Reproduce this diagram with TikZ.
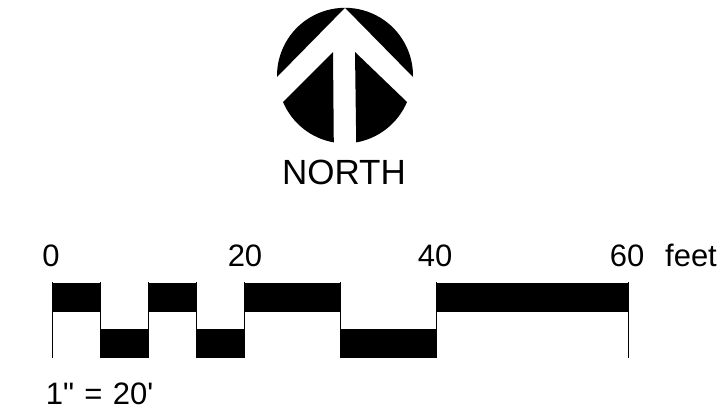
\documentclass[tikz,border=0pt]{standalone}
\usepackage{fontspec}
\newfontfamily\labelfont{Liberation Sans}
\tikzset{
  scalelabel/.style={anchor=base,inner sep=0pt,font=\labelfont\fontsize{31}{36}\selectfont},
  titlelabel/.style={anchor=base,inner sep=0pt,font=\labelfont\fontsize{35}{42}\selectfont},
  tickline/.style={line width=0.9pt}
}
\newcommand{\blocks}[3]{
  \foreach \a/\b in {#1} {
    \fill ({52+9.6*\a},#2) rectangle ({52+9.6*\b},#3);
  }
}
\begin{document}
\begin{tikzpicture}[x=1pt,y=-1pt]
      \useasboundingbox (0,0) rectangle (725,415);
      % north arrow
      \fill (277,77) arc[start angle=179,end angle=270,radius=68] -- cycle;
      \fill (413,77) arc[start angle=1,end angle=-90,radius=68] -- cycle;
      \fill (333,52) -- (283,102) arc[start angle=157,end angle=100,radius=68] -- cycle;
      \fill (355,52) -- (407,102) arc[start angle=23,end angle=80,radius=68] -- cycle;
      \node[titlelabel] (north) at (344,184) {NORTH};
      % scale bar
      \foreach \f in {0,5,10,15,20,30,40,60} {
        \draw[tickline] ({52+9.6*\f},282) -- ({52+9.6*\f},358);
      }
      \blocks{0/5,10/15,20/30,40/60}{282.5}{312}
      \blocks{5/10,15/20,30/40}{329}{358}
      \node[scalelabel] (zero) at (51,266) {0};
      \node[scalelabel] (twenty) at (245,266) {20};
      \node[scalelabel] (forty) at (435,266) {40};
      \node[scalelabel] (sixty) at (627,266) {60};
      \node[scalelabel] (feet) at (691,266) {feet};
      \node[scalelabel] (ratio) at (99.5,404) {1"\,\,=\,\,20'};
    \end{tikzpicture}
\end{document}
